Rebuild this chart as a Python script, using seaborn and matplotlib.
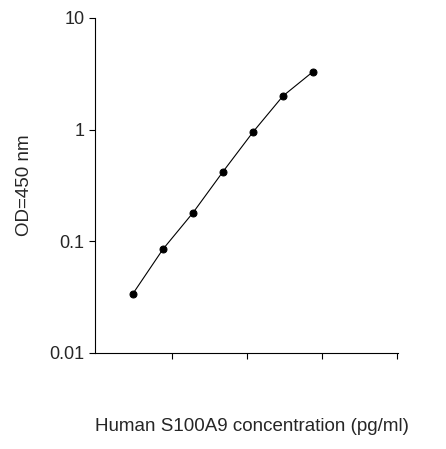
import matplotlib
matplotlib.use("Agg")
import matplotlib.pyplot as plt
import seaborn as sns
import pandas as pd

# standard curve points (x is just point index, axis has no labels)
point_index = [1, 2, 3, 4, 5, 6, 7]
od_values = [0.034, 0.085, 0.18, 0.42, 0.95, 2.0, 3.3]
y_ticks = [0.01, 0.1, 1, 10]
y_tick_labels = ["0.01", "0.1", "1", "10"]

df = pd.DataFrame({"x": point_index, "od": od_values})

sns.set_style("ticks")
plt.rcParams["font.family"] = ["Liberation Sans", "DejaVu Sans"]

fig = plt.figure(figsize=(4.46, 4.49), dpi=100)
ax = fig.add_axes([0.213, 0.214, 0.679, 0.746])

sns.lineplot(data=df, x="x", y="od", color="black", linewidth=0.8,
             marker="o", markersize=5, markeredgecolor="black", ax=ax)

ax.set_yscale("log")
ax.set_ylim(0.01, 10)
ax.set_yticks(y_ticks)
ax.set_yticklabels(y_tick_labels, fontsize=13)
ax.minorticks_off()
ax.set_xlim(-0.267, 9.83)
ax.set_xticks([2.3, 4.8, 7.3, 9.8])
ax.set_xticklabels([])
ax.tick_params(direction="out", length=4, color="black")
ax.set_xlabel("")
ax.set_ylabel("OD=450 nm", fontsize=13.5, labelpad=12)
for s in ["top", "right"]:
    ax.spines[s].set_visible(False)
for s in ["left", "bottom"]:
    ax.spines[s].set_color("black")
    ax.spines[s].set_linewidth(0.8)

fig.text(0.565, 0.04, "Human S100A9 concentration (pg/ml)", ha="center", fontsize=13.5)

fig.savefig("out.png", dpi=100)
